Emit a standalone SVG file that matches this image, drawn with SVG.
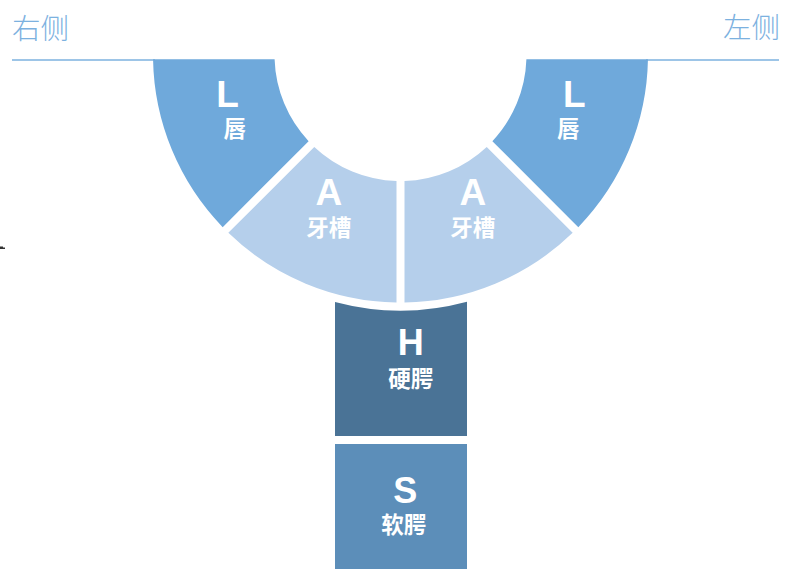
<svg xmlns="http://www.w3.org/2000/svg" width="795" height="569" viewBox="0 0 795 569">
<style>
.letter{font-family:"Liberation Sans",Arial,sans-serif;font-weight:bold;fill:#ffffff;text-anchor:middle}
.cjk{font-family:"Noto Sans CJK SC","Noto Sans",sans-serif;font-weight:bold;fill:#ffffff;text-anchor:middle;font-size:22.5px}
.title{font-family:"Noto Sans CJK SC","Noto Sans",sans-serif;font-weight:300;fill:#7cb1df;font-size:28.5px}
.lip{fill:#6fa9db}
.alv{fill:#b5cfeb}
</style>
<rect width="795" height="569" fill="#ffffff"/>
<g id="titles">
<text class="title" x="12" y="39">右侧</text>
<text class="title" x="780" y="38" text-anchor="end">左侧</text>
</g>
<g id="connectors">
<line x1="12" y1="60" x2="155" y2="60" stroke="#7db2df" stroke-width="1.3"/>
<line x1="646" y1="60" x2="779" y2="60" stroke="#7db2df" stroke-width="1.3"/>
</g>
<g id="lip-right-side">
<path class="lip" d="M153.05 59.3 L274.6 59.3 A126 126 0 0 0 308.62 141.22 L222.68 227.16 A247.5 247.5 0 0 1 153.05 59.3 Z"/>
<text class="letter" x="227.5" y="106.5" font-size="37">L</text>
<text class="cjk" x="234.8" y="137">唇</text>
</g>
<g id="alveolar-right-side">
<path class="alv" d="M228.34 232.82 L314.28 146.88 A126 126 0 0 0 396.5 180.94 L396.5 302.47 A247.5 247.5 0 0 1 228.34 232.82 Z"/>
<text class="letter" x="328.8" y="205" font-size="37">A</text>
<text class="cjk" x="328.7" y="235.5">牙槽</text>
</g>
<g id="alveolar-left-side">
<path class="alv" d="M404.5 180.94 A126 126 0 0 0 486.72 146.88 L572.66 232.82 A247.5 247.5 0 0 1 404.5 302.47 Z"/>
<text class="letter" x="472.8" y="205" font-size="37">A</text>
<text class="cjk" x="472.8" y="235.5">牙槽</text>
</g>
<g id="lip-left-side">
<path class="lip" d="M492.38 141.22 A126 126 0 0 0 526.4 59.3 L647.95 59.3 A247.5 247.5 0 0 1 578.32 227.16 Z"/>
<text class="letter" x="574.3" y="106.5" font-size="37">L</text>
<text class="cjk" x="568.2" y="137">唇</text>
</g>
<g id="hard-palate">
<path fill="#4a7396" d="M335 301.96 A255.5 255.5 0 0 0 467 301.69 L467 436 L335 436 Z"/>
<text class="letter" x="410.8" y="355" font-size="36">H</text>
<text class="cjk" x="410.8" y="387">硬腭</text>
</g>
<g id="soft-palate">
<rect x="335" y="444" width="132" height="126" fill="#5c8eb9"/>
<text class="letter" x="405.3" y="502.5" font-size="36">S</text>
<text class="cjk" x="403.8" y="533">软腭</text>
</g>
<path d="M0 246.5 H3 V247.5 H5 V249 H0 Z" fill="#333333"/>
</svg>
